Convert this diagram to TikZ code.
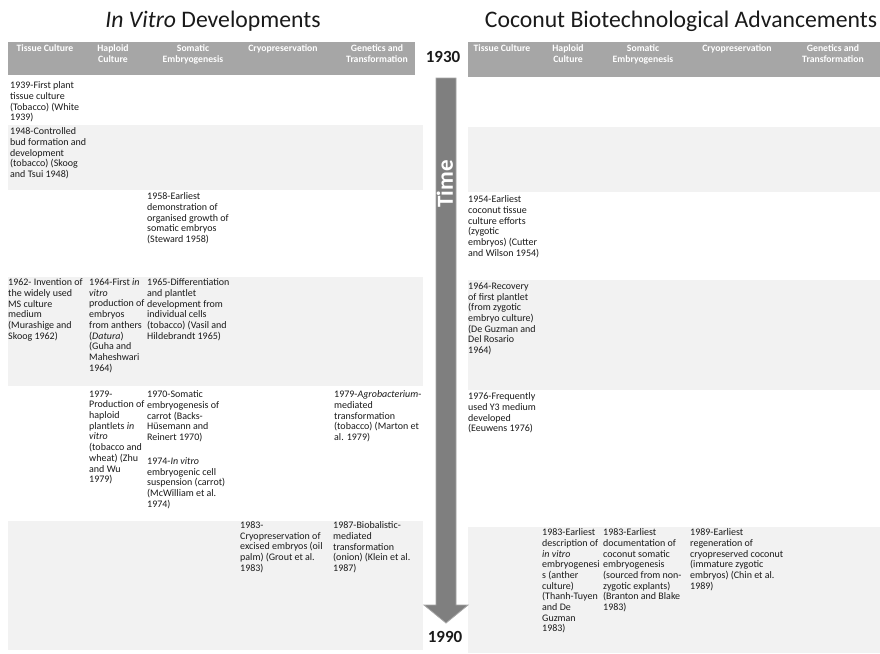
\documentclass[tikz,border=0pt]{standalone}
\usepackage{fontspec}
\setmainfont{Carlito}
\definecolor{hdr}{HTML}{A6A6A6}
\definecolor{band}{HTML}{F2F2F2}
\definecolor{ink}{HTML}{1A1A1A}
\definecolor{arrowfill}{HTML}{7F7F7F}
\definecolor{arrowline}{HTML}{A5A5A5}
\begin{document}
\begin{tikzpicture}[x=1pt,y=-1pt,
  ev/.style={anchor=north west, inner sep=0pt, align=left, font=\fontsize{10}{10.7}\selectfont, text=ink},
  hd/.style={anchor=north, inner sep=0pt, align=center, font=\fontsize{9.7}{11.8}\selectfont\bfseries, text=white},
  ttl/.style={inner sep=0pt, font=\fontsize{23.7}{28}\selectfont, text=ink},
  yr/.style={inner sep=0pt, font=\fontsize{17}{20}\selectfont\bfseries, text=ink},
  hband/.style={fill=hdr},
  lband/.style={fill=band}]
\useasboundingbox[fill=white] (0,0) rectangle (880,653);

% titles
\node[ttl] (tleft) at (213,21) {\textit{In Vitro} Developments};
\node[ttl] (tright) at (681,21) {Coconut Biotechnological Advancements};

% bands left
\fill[hband] (8,42) rectangle (415,75);
\fill[lband] (8,125) rectangle (423,190);
\fill[lband] (8,277) rectangle (423,386);
\fill[lband] (8,521) rectangle (423,650);
% bands right
\fill[hband] (468,42) rectangle (880,77);
\fill[lband] (468,127) rectangle (880,192);
\fill[lband] (468,280) rectangle (880,390);
\fill[lband] (468,527) rectangle (880,653);

% headers left
\node[hd] (lh1) at (45,44) {Tissue Culture};
\node[hd] (lh2) at (113,44) {Haploid\\Culture};
\node[hd] (lh3) at (193,44) {Somatic\\Embryogenesis};
\node[hd] (lh4) at (283,44) {Cryopreservation};
\node[hd] (lh5) at (377,44) {Genetics and\\Transformation};
% headers right
\node[hd] (rh1) at (502,44) {Tissue Culture};
\node[hd] (rh2) at (568,44) {Haploid\\Culture};
\node[hd] (rh3) at (643,44) {Somatic\\Embryogenesis};
\node[hd] (rh4) at (737,44) {Cryopreservation};
\node[hd] (rh5) at (833,44) {Genetics and\\Transformation};

% arrow
\draw[fill=arrowfill, draw=arrowline, line width=0.8pt]
  (436,78) -- (456,78) -- (456,605) -- (468,605) -- (446,623) -- (424,605) -- (436,605) -- cycle;
\node[rotate=90, inner sep=0pt, text=white, font=\fontsize{23}{27}\selectfont\bfseries] (time) at (445,184) {Time};
\node[yr] (y1930) at (443,57) {1930};
\node[yr] (y1990) at (445,637) {1990};

% left events
\node[ev] (e1939) at (10,81.5) {1939-First plant\\tissue culture\\(Tobacco) (White\\1939)};
\node[ev] (e1948) at (10,127.5) {1948-Controlled\\bud formation and\\development\\(tobacco) (Skoog\\and Tsui 1948)};
\node[ev] (e1958) at (147,192.5) {1958-Earliest\\demonstration of\\organised growth of\\somatic embryos\\(Steward 1958)};
\node[ev] (e1962) at (8,278.5) {1962- Invention of\\the widely used\\MS culture\\medium\\(Murashige and\\Skoog 1962)};
\node[ev] (e1964) at (89,278.5) {1964-First \textit{in}\\\textit{vitro}\\production of\\embryos\\from anthers\\(\textit{Datura})\\(Guha and\\Maheshwari\\1964)};
\node[ev] (e1965) at (147,278.5) {1965-Differentiation\\and plantlet\\development from\\individual cells\\(tobacco) (Vasil and\\Hildebrandt 1965)};
\node[ev] (e1979h) at (89,390.5) {1979-\\Production of\\haploid\\plantlets \textit{in}\\\textit{vitro}\\(tobacco and\\wheat) (Zhu\\and Wu\\1979)};
\node[ev] (e1970) at (147,390.5) {1970-Somatic\\embryogenesis of\\carrot (Backs-\\Hüsemann and\\Reinert 1970)};
\node[ev] (e1974) at (147,457.5) {1974-\textit{In vitro}\\embryogenic cell\\suspension (carrot)\\(McWilliam et al.\\1974)};
\node[ev] (e1979a) at (334,390.5) {1979-\textit{Agrobacterium}-\\mediated\\transformation\\(tobacco) (Marton et\\al. 1979)};
\node[ev] (e1983c) at (240,521.5) {1983-\\Cryopreservation of\\excised embryos (oil\\palm) (Grout et al.\\1983)};
\node[ev] (e1987) at (333,521.5) {1987-Biobalistic-\\mediated\\transformation\\(onion) (Klein et al.\\1987)};

% right events
\node[ev] (c1954) at (468,195.5) {1954-Earliest\\coconut tissue\\culture efforts\\(zygotic\\embryos) (Cutter\\and Wilson 1954)};
\node[ev] (c1964) at (468,282.5) {1964-Recovery\\of first plantlet\\(from zygotic\\embryo culture)\\(De Guzman and\\Del Rosario\\1964)};
\node[ev] (c1976) at (468,392.5) {1976-Frequently\\used Y3 medium\\developed\\(Eeuwens 1976)};
\node[ev] (c1983h) at (542,528.5) {1983-Earliest\\description of\\\textit{in vitro}\\embryogenesi\\s (anther\\culture)\\(Thanh-Tuyen\\and De\\Guzman\\1983)};
\node[ev] (c1983s) at (603,528.5) {1983-Earliest\\documentation of\\coconut somatic\\embryogenesis\\(sourced from non-\\zygotic explants)\\(Branton and Blake\\1983)};
\node[ev] (c1989) at (690,528.5) {1989-Earliest\\regeneration of\\cryopreserved coconut\\(immature zygotic\\embryos) (Chin et al.\\1989)};
\end{tikzpicture}
\end{document}
